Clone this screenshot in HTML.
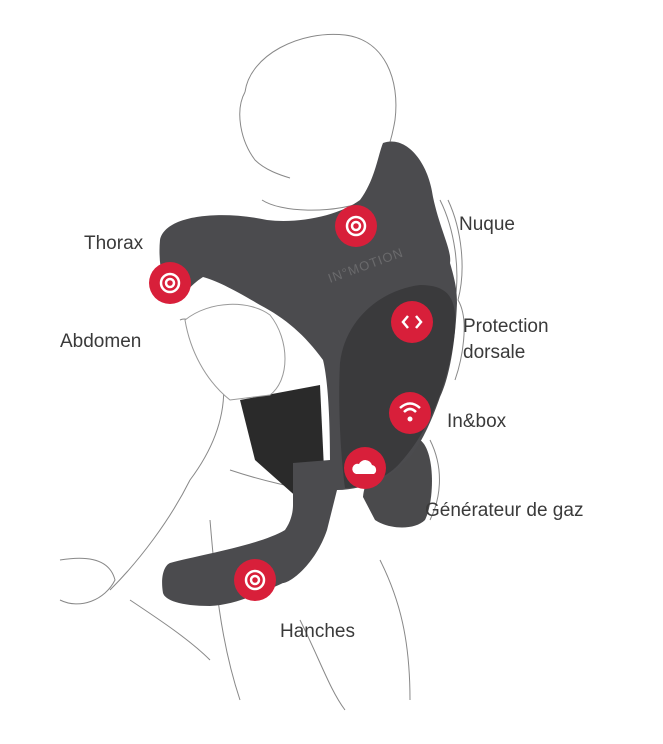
<!DOCTYPE html>
<html><head><meta charset="utf-8"><style>
html,body{margin:0;padding:0;background:#fff;}
svg{display:block}
text{font-family:"Liberation Sans",sans-serif;font-size:19px;fill:#3a3a3a;}
</style></head><body>
<svg width="663" height="744" viewBox="0 0 663 744" xmlns="http://www.w3.org/2000/svg">
<rect width="663" height="744" fill="#fff"/>
<g fill="none" stroke="#888" stroke-width="1">
<path d="M245 92 C250 55 300 30 345 35 C385 40 400 80 395 120 C390 150 380 170 372 180"/>
<path d="M245 92 C235 110 240 140 255 160 C265 170 280 175 290 178"/>
<path d="M262 200 C280 212 330 215 370 200"/>
<path d="M110 590 C140 560 170 520 190 480 C220 440 230 400 220 360 C210 330 190 315 180 320"/>
<path d="M60 560 C90 555 110 560 115 580 C105 600 80 610 60 600"/>
<path d="M130 600 C160 620 190 640 210 660"/>
<path d="M210 520 C215 580 220 640 240 700"/>
<path d="M300 620 C320 660 330 690 345 710"/>
<path d="M230 470 C260 480 300 490 320 490"/>
<path d="M380 560 C400 600 410 640 410 700"/>
<path d="M440 200 C455 230 460 270 455 300"/>
<path d="M448 200 C462 230 466 270 458 300 C470 320 462 360 455 380"/>
<path d="M430 440 C445 470 440 500 430 520"/>
</g>
<path d="M240 400 L320 385 L325 490 L300 500 L255 460 Z" fill="#2a2a2a"/>
<path d="M185 320 C210 300 250 300 270 315 C290 340 290 380 270 395 L230 400 C205 380 190 350 185 320Z" fill="#fff" stroke="#999"/>
<path d="M363 497 C365 470 395 440 420 440 C435 450 435 500 425 520 C415 530 390 530 375 520 Z" fill="#4a4a4c"/>
<path d="M160 240 C165 215 220 210 267 220 C300 224 340 215 360 200 C375 180 378 155 383 143 C405 135 428 160 433 197 C440 230 452 250 450 263 C455 280 457 290 457 303 C455 350 448 380 440 397 C425 440 410 460 403 463 C390 480 360 490 337 490 L327 530 C315 565 290 583 283 583 C250 598 230 605 210 606 C180 606 165 600 163 593 C160 575 165 565 170 563 C200 555 260 545 285 530 C292 520 293 510 293 505 L293 463 L330 460 C330 420 328 380 323 360 C305 335 285 318 260 305 C235 290 215 280 203 277 C190 285 180 300 170 303 C162 285 158 260 160 240 Z" fill="#4b4b4e"/>
<path d="M340 363 C345 320 380 290 420 285 C450 285 457 300 455 330 C450 380 430 430 400 463 C385 480 360 488 345 488 C340 450 338 400 340 363Z" fill="#3a3a3c"/>
<text x="330" y="283" transform="rotate(-20 330 283)" style="font-size:13px;fill:#6a6a6c;letter-spacing:1px">IN°MOTION</text>
<g fill="#d81f3a">
<circle cx="356" cy="226" r="21"/><circle cx="170" cy="283" r="21"/><circle cx="412" cy="322" r="21"/><circle cx="410" cy="413" r="21"/><circle cx="365" cy="468" r="21"/><circle cx="255" cy="580" r="21"/>
</g>
<g fill="none" stroke="#fff" stroke-width="2.5">
<circle cx="356" cy="226" r="9"/><circle cx="356" cy="226" r="4"/>
<circle cx="170" cy="283" r="9"/><circle cx="170" cy="283" r="4"/>
<circle cx="255" cy="580" r="9"/><circle cx="255" cy="580" r="4"/>
<path d="M408 316 L403 322 L408 328 M416 316 L421 322 L416 328"/>
<path d="M400 408 Q410 399 420 408 M404 412 Q410 406 416 412"/>
</g>
<circle cx="410" cy="419" r="2.5" fill="#fff"/>
<path d="M356 474 h18 a5 5 0 0 0 -2 -9 a7 7 0 0 0 -13 -1 a5 5 0 0 0 -3 10z" fill="#fff"/>
<text x="84" y="249">Thorax</text>
<text x="459" y="230">Nuque</text>
<text x="60" y="347">Abdomen</text>
<text x="463" y="332">Protection</text>
<text x="463" y="358">dorsale</text>
<text x="447" y="427">In&amp;box</text>
<text x="425" y="516">Générateur de gaz</text>
<text x="280" y="637">Hanches</text>
</svg>
</body></html>
